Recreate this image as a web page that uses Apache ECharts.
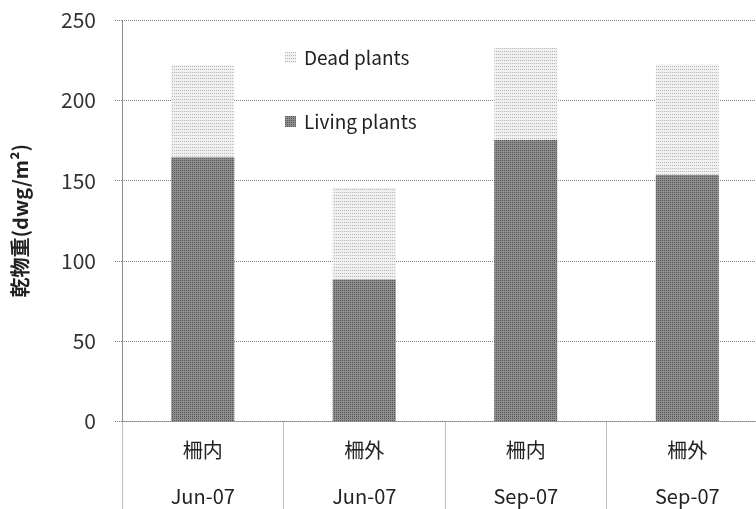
<!DOCTYPE html>
<html>
<head>
<meta charset="utf-8">
<script src="https://cdn.jsdelivr.net/npm/echarts@6/dist/echarts.min.js"></script>
<style>
  html, body { margin: 0; padding: 0; background: #fff; }
  #chart { width: 756px; height: 509px; }
</style>
</head>
<body>
<div id="chart"></div>
<script>
// Dry weight of plants, inside / outside the fence, two sampling dates
const groups = ['柵内', '柵外', '柵内', '柵外'];
const dates = ['Jun-07', 'Jun-07', 'Sep-07', 'Sep-07'];
const livingPlants = [164.5, 88.5, 175.5, 153.5];
const deadPlants = [57.5, 57, 57, 69];
const yTicks = { min: 0, max: 250, interval: 50 };

const FONT = "'Noto Sans CJK JP', 'Open Sans', sans-serif";
const dotted = { type: 'dotted', color: '#808080', width: 1 };

const chart = echarts.init(document.getElementById('chart'), null, { renderer: 'canvas' });

chart.setOption({
  animation: false,
  backgroundColor: '#ffffff',
  textStyle: { fontFamily: FONT },
  grid: {
    left: 122, right: -12, top: 20, bottom: 87.5,
    containLabel: false,
    outerBoundsMode: 'none'
  },
  legend: {
    orient: 'vertical',
    left: 280,
    top: 43,
    itemWidth: 11,
    itemHeight: 11,
    itemGap: 45,
    icon: 'rect',
    data: ['Dead plants', 'Living plants'],
    textStyle: { fontSize: 19, color: '#222', fontFamily: FONT, padding: [0, 0, 0, 3] }
  },
  xAxis: {
    type: 'category',
    data: groups.map((g, i) => g + '\n' + dates[i]),
    axisLine: { show: true, lineStyle: dotted },
    axisTick: { show: true, interval: 0, length: 88, lineStyle: dotted },
    axisLabel: {
      interval: 0,
      margin: 6,
      lineHeight: 46,
      fontSize: 20,
      color: '#222',
      fontFamily: FONT
    },
    splitLine: { show: false }
  },
  yAxis: {
    type: 'value',
    min: yTicks.min,
    max: yTicks.max,
    interval: yTicks.interval,
    name: '乾物重(dwg/m²)',
    nameLocation: 'middle',
    nameGap: 92,
    nameTextStyle: { fontSize: 20, fontWeight: 'bold', color: '#222', fontFamily: FONT },
    axisLine: { show: true, lineStyle: dotted },
    axisTick: { show: true, length: 8, lineStyle: dotted },
    axisLabel: { fontSize: 21, color: '#333', margin: 26, fontFamily: FONT },
    splitLine: { show: true, lineStyle: dotted }
  },
  series: [
    {
      name: 'Living plants',
      type: 'bar',
      stack: 'total',
      barWidth: '39%',
      data: livingPlants,
      itemStyle: {
        color: '#8e8e8e',
        decal: { symbol: 'rect', symbolSize: 1, color: '#555555', dashArrayX: [1, 1], dashArrayY: [1, 1] }
      }
    },
    {
      name: 'Dead plants',
      type: 'bar',
      stack: 'total',
      barWidth: '39%',
      data: deadPlants,
      itemStyle: {
        color: '#f0f0f0',
        decal: { symbol: 'rect', symbolSize: 1, color: '#b8b8b8', dashArrayX: [1, 1], dashArrayY: [1, 2] }
      }
    }
  ]
});
</script>
</body>
</html>
